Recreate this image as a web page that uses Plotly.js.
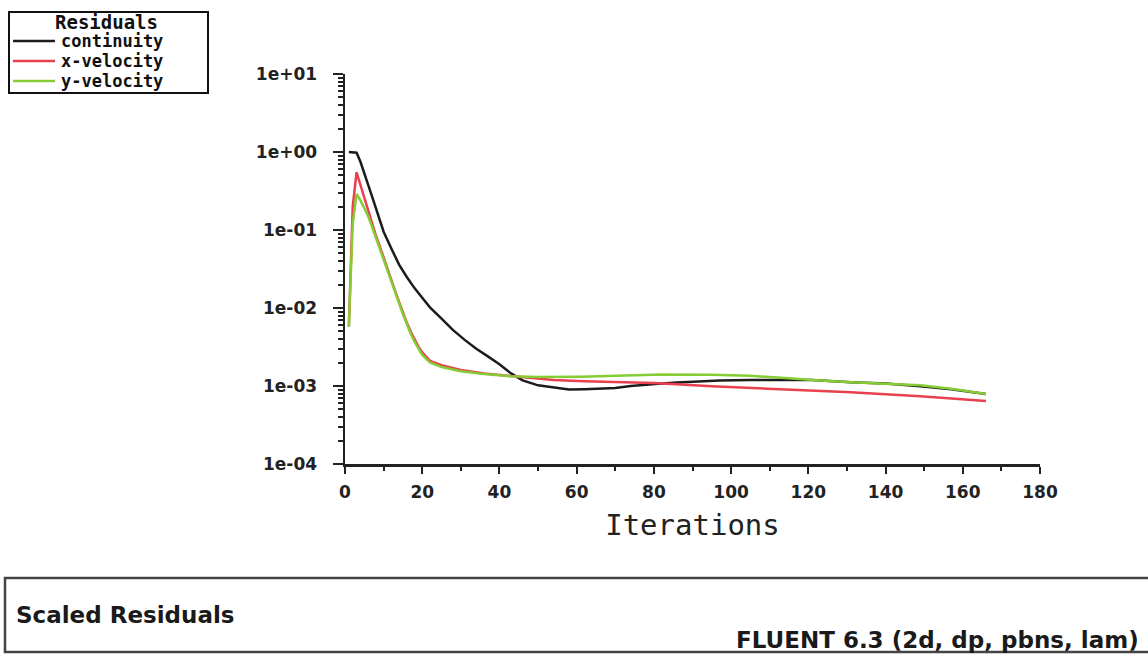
<!DOCTYPE html>
<html>
<head>
<meta charset="utf-8">
<script src="https://cdn.plot.ly/plotly-3.0.1.min.js"></script>
<style>html,body{margin:0;padding:0;background:#fff;}#chart{width:1148px;height:658px;}</style>
</head>
<body>
<div id="chart"></div>
<script>
// ---- data ----
const seriesNames = ["continuity", "x-velocity", "y-velocity"];

const iterContinuity = [1,2,3,4,5,6,7,8,9,10,12,14,16,18,20,22,25,28,31,34,37,40,43,46,50,54,58,62,66,70,74,78,82,86,90,97,105,113,121,131,140,149,157,166];
const continuity = [1.0,1.0,0.98,0.75,0.52,0.38,0.27,0.19,0.13,0.095,0.058,0.036,0.025,0.018,0.0135,0.0102,0.0073,0.0052,0.0039,0.0030,0.0024,0.0019,0.00145,0.00118,0.00102,0.00095,0.00090,0.00091,0.00092,0.00094,0.00100,0.00105,0.00108,0.00111,0.00114,0.00118,0.00119,0.00119,0.00119,0.00112,0.00108,0.00099,0.00091,0.00079];

const iterXVel = [1,2,3,4,5,6,7,8,9,10,11,12,13,14,15,16,17,18,19,20,22,25,30,36,43,47,54,62,71,80,95,114,131,149,166];
const xVelocity = [0.0058,0.2,0.55,0.38,0.25,0.17,0.12,0.085,0.062,0.044,0.032,0.023,0.0165,0.012,0.0087,0.0065,0.005,0.0039,0.0032,0.0027,0.0021,0.00185,0.0016,0.00145,0.00135,0.00128,0.00119,0.00115,0.00112,0.00109,0.00099,0.00091,0.00083,0.00074,0.00064];

const iterYVel = [1,2,3,4,5,6,7,8,9,10,11,12,13,14,15,16,17,18,19,20,22,25,30,36,43,50,61,70,82,95,105,114,121,131,140,149,157,166];
const yVelocity = [0.0058,0.12,0.29,0.24,0.19,0.15,0.11,0.08,0.06,0.043,0.031,0.022,0.016,0.0115,0.0083,0.0062,0.0047,0.0037,0.003,0.0025,0.002,0.00175,0.00155,0.00142,0.00133,0.0013,0.00131,0.00135,0.0014,0.00139,0.00135,0.00127,0.00119,0.00112,0.00107,0.00102,0.00092,0.00079];

const yTickVals = [1e-4, 1e-3, 1e-2, 1e-1, 1e0, 1e1];
const yTickText = ["1e-04", "1e-03", "1e-02", "1e-01", "1e+00", "1e+01"];
const xTickVals = [0,20,40,60,80,100,120,140,160,180];

const legendTitle = "Residuals";
const footerLeft = "Scaled Residuals";
const footerRight = "FLUENT 6.3 (2d, dp, pbns, lam)";
const xTitle = "Iterations";

// ---- styling ----
const colors = ["#1c1c1c", "#e8404e", "#86cc34"];
const L = 345, R = 1040, T = 74, B = 464;
const px = x => (x - L) / (R - L);
const py = y => (B - y) / (B - T);

const traces = [
  {x: iterContinuity, y: continuity, name: seriesNames[0]},
  {x: iterXVel, y: xVelocity, name: seriesNames[1]},
  {x: iterYVel, y: yVelocity, name: seriesNames[2]}
].map((t, i) => Object.assign(t, {
  type: "scatter", mode: "lines", showlegend: false,
  line: {color: colors[i], width: 2.5}
}));

const legendRows = [43, 63, 83];
const shapes = [
  // legend box
  {type: "rect", xref: "paper", yref: "paper", x0: px(9), x1: px(208), y0: py(93), y1: py(12),
   line: {color: "#111", width: 2}, fillcolor: "rgba(0,0,0,0)"},
  // footer box
  {type: "rect", xref: "paper", yref: "paper", x0: px(5), x1: px(1160), y0: py(652), y1: py(578),
   line: {color: "#444", width: 2.5}, fillcolor: "rgba(0,0,0,0)"}
];
legendRows.forEach((y, i) => shapes.push({
  type: "line", xref: "paper", yref: "paper", x0: px(13), x1: px(55), y0: py(y - 2), y1: py(y - 2),
  line: {color: colors[i], width: 2.5}
}));

const legendFont = {family: "DejaVu Sans Mono", size: 17, color: "#111", weight: "bold"};
const footerFont = {family: "DejaVu Sans", size: 23, color: "#1a1a1a", weight: "bold"};
const annotations = [
  {text: legendTitle, xref: "paper", yref: "paper", x: px(106), y: py(22), xanchor: "center", yanchor: "middle",
   showarrow: false, font: {family: "DejaVu Sans Mono", size: 19, color: "#111", weight: "bold"}},
  {text: footerLeft, xref: "paper", yref: "paper", x: px(14), y: py(615), xanchor: "left", yanchor: "middle",
   showarrow: false, font: footerFont},
  {text: footerRight, xref: "paper", yref: "paper", x: px(1141), y: py(640), xanchor: "right", yanchor: "middle",
   showarrow: false, font: footerFont}
];
seriesNames.forEach((n, i) => annotations.push({
  text: n, xref: "paper", yref: "paper", x: px(59), y: py(legendRows[i] - 2), xanchor: "left", yanchor: "middle",
  showarrow: false, font: legendFont
}));

const tickFont = {family: "DejaVu Sans", size: 17, color: "#222", weight: "bold"};

const layout = {
  width: 1148, height: 658,
  margin: {l: L, r: 1148 - R, t: T, b: 658 - B, pad: 0},
  paper_bgcolor: "#fff", plot_bgcolor: "#fff",
  showlegend: false,
  xaxis: {
    range: [0, 180], tickmode: "array", tickvals: xTickVals,
    ticks: "outside", ticklen: 7, tickwidth: 2, tickcolor: "#222",
    minor: {dtick: 10, ticks: "outside", ticklen: 4, tickwidth: 2, tickcolor: "#222", showgrid: false},
    showline: true, linecolor: "#222", linewidth: 2.5,
    showgrid: false, zeroline: false,
    tickfont: tickFont, ticklabelstandoff: 4,
    title: {text: xTitle, font: {family: "DejaVu Sans Mono", size: 29, color: "#222"}, standoff: 14}
  },
  yaxis: {
    type: "log", range: [-4, 1], tickmode: "array", tickvals: yTickVals, ticktext: yTickText,
    ticks: "outside", ticklen: 10, tickwidth: 2, tickcolor: "#222",
    minor: {dtick: "D1", ticks: "outside", ticklen: 5, tickwidth: 2, tickcolor: "#222", showgrid: false},
    showline: true, linecolor: "#222", linewidth: 2.5,
    showgrid: false, zeroline: false,
    tickfont: tickFont, ticklabelstandoff: 12
  },
  shapes: shapes,
  annotations: annotations
};

Plotly.newPlot("chart", traces, layout, {displayModeBar: false, staticPlot: true});
</script>
</body>
</html>
